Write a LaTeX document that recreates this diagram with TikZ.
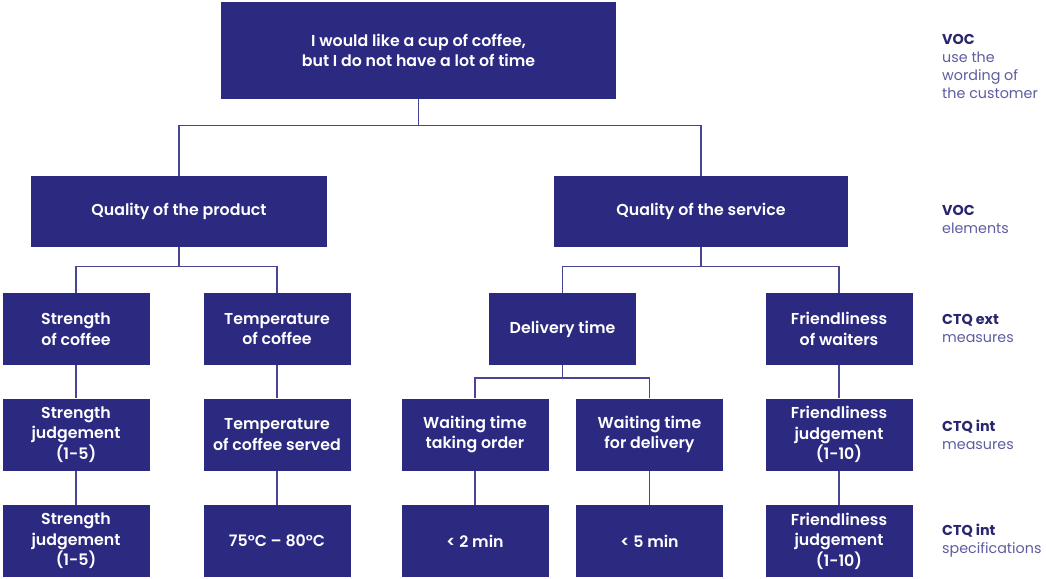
\documentclass[tikz,border=0pt]{standalone}
\usepackage{fontspec}
\setmainfont{Poppins}
\newfontfamily\boxfont{Poppins}[UprightFont=* SemiBold, BoldFont=* Bold]
\definecolor{boxblue}{RGB}{44,41,128}
\definecolor{linecol}{RGB}{72,69,150}
\definecolor{labdark}{RGB}{40,38,110}
\definecolor{lablight}{RGB}{95,93,160}

\tikzset{
  box/.style={fill=boxblue, text=white, align=center, inner sep=0pt,
    font=\boxfont\fontsize{15.8}{20.5}\selectfont},
  smallbox/.style={box, minimum width=147pt, minimum height=72pt},
  conn/.style={draw=linecol, line width=1.5pt},
  lab/.style={anchor=north west, align=left, inner sep=0pt, text=lablight,
    font=\fontsize{14.3}{18}\selectfont},
}
\newcommand{\labhead}[1]{{\bfseries\color{labdark}#1}}

\begin{document}
\begin{tikzpicture}[x=1pt,y=-1pt]
  \useasboundingbox[fill=white] (0,0) rectangle (1046,578);

  % level 1
  \node[box, minimum width=395pt, minimum height=97pt] (top) at (418.5,50.5)
    {I would like a cup of coffee,\\but I do not have a lot of time};

  % level 2
  \node[box, minimum width=296pt, minimum height=71pt] (prod) at (179,211.5) {Quality of the product};
  \node[box, minimum width=294pt, minimum height=71pt] (serv) at (701,211.5) {Quality of the service};

  % level 3
  \node[smallbox] (str)    at (76,329)    {Strength\\of coffee};
  \node[smallbox] (temp)   at (277,329)   {Temperature\\of coffee};
  \node[smallbox] (deliv)  at (562.5,329) {Delivery time};
  \node[smallbox] (friend) at (839,329)   {Friendliness\\of waiters};

  % level 4
  \node[smallbox] (strj)    at (76,434.5)    {Strength\\judgement\\(1-5)};
  \node[smallbox] (temps)   at (277,434.5)   {Temperature\\of coffee served};
  \node[smallbox] (waito)   at (475,434.5)   {Waiting time\\taking order};
  \node[smallbox] (waitd)   at (649.5,434.5) {Waiting time\\for delivery};
  \node[smallbox] (friendj) at (839,434.5)   {Friendliness\\judgement\\(1-10)};

  % level 5
  \node[smallbox] (strs)    at (76,541)    {Strength\\judgement\\(1-5)};
  \node[smallbox] (temprng) at (277,541)   {75\textdegree C \textendash{} 80\textdegree C};
  \node[smallbox] (lt2)     at (475,541)   {< 2 min};
  \node[smallbox] (lt5)     at (649.5,541) {< 5 min};
  \node[smallbox] (friends) at (839,541)   {Friendliness\\judgement\\(1-10)};

  % branching points
  \coordinate (j1) at (418.5,125.5);
  \coordinate (j2) at (179,266.5);
  \coordinate (j3) at (701,266.5);
  \coordinate (j4) at (562.5,378);

  % connectors
  \draw[conn] (top.south) -- (j1);
  \draw[conn] (prod.north) |- (j1) -| (serv.north);
  \draw[conn] (prod.south) -- (j2);
  \draw[conn] (str.north) |- (j2) -| (temp.north);
  \draw[conn] (serv.south) -- (j3);
  \draw[conn] (deliv.north) |- (j3) -| (friend.north);
  \draw[conn] (deliv.south) -- (j4);
  \draw[conn] (waito.north) |- (j4) -| (waitd.north);
  \draw[conn] (str.south) -- (strj.north);
  \draw[conn] (strj.south) -- (strs.north);
  \draw[conn] (temp.south) -- (temps.north);
  \draw[conn] (temps.south) -- (temprng.north);
  \draw[conn] (waito.south) -- (lt2.north);
  \draw[conn] (waitd.south) -- (lt5.north);
  \draw[conn] (friend.south) -- (friendj.north);
  \draw[conn] (friendj.south) -- (friends.north);

  % level descriptions
  \node[lab] (l1) at (942,34)  {\labhead{VOC}\\use the\\wording of\\the customer};
  \node[lab] (l2) at (942,205) {\labhead{VOC}\\elements};
  \node[lab] (l3) at (942,314) {\labhead{CTQ ext}\\measures};
  \node[lab] (l4) at (942,420) {\labhead{CTQ int}\\measures};
  \node[lab] (l5) at (942,524) {\labhead{CTQ int}\\specifications};
\end{tikzpicture}
\end{document}
